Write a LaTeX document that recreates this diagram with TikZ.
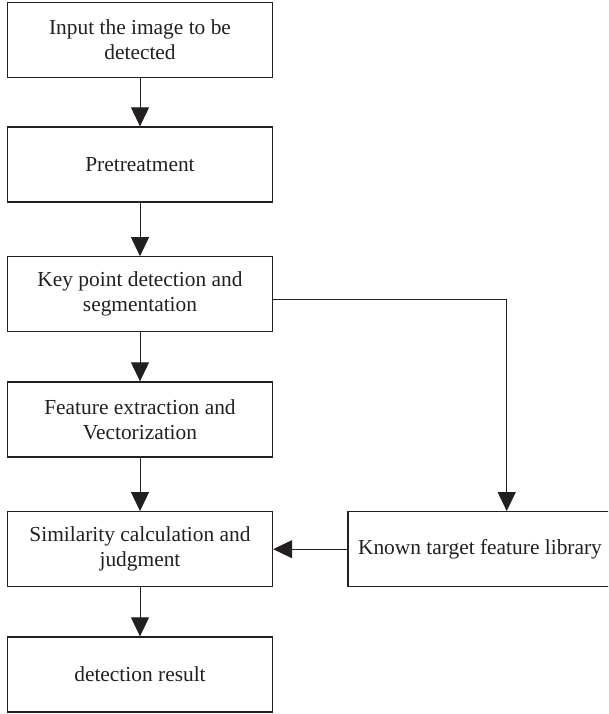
\documentclass[tikz,border=0pt]{standalone}
\usepackage{fontspec}
\setmainfont{Liberation Serif}
\usetikzlibrary{arrows.meta}
\definecolor{ink}{HTML}{231F20}
\tikzset{
  stepbox/.style={draw=ink, line width=1.3pt, rectangle, minimum width=265pt,
    minimum height=75pt, align=center, font=\fontsize{21.4}{25}\selectfont,
    text=ink, inner sep=0pt},
  flow/.style={draw=ink, line width=1pt, -{Triangle[length=19pt,width=18pt]}}
}
\begin{document}
\begin{tikzpicture}[x=1pt,y=-1pt]
\useasboundingbox (0,0) rectangle (608,714);
\clip (0,0) rectangle (608,714);
% main column
\node[stepbox] (b1) at (140,39.7) {Input the image to be\\detected};
\node[stepbox] (b2) at (140,164.5) {Pretreatment};
\node[stepbox] (b3) at (140,294.3) {Key point detection and\\segmentation};
\node[stepbox] (b4) at (140,419.5) {Feature extraction and\\Vectorization};
\node[stepbox] (b5) at (140,549.2) {Similarity calculation and\\judgment};
\node[stepbox] (b6) at (140,674.5) {detection result};
% side library box
\node[stepbox, minimum width=264pt] (kn) at (480,549.2) {Known target feature library};
% connectors
\draw[flow] (b1) -- (b2);
\draw[flow] (b2) -- (b3);
\draw[flow] (b3) -- (b4);
\draw[flow] (b4) -- (b5);
\draw[flow] (b5) -- (b6);
\coordinate (turn) at (506.7,299.3);
\draw[flow] ([yshift=-5pt]b3.east) -- (turn) -- (turn |- kn.north);
\draw[flow] (kn) -- (b5);
\end{tikzpicture}
\end{document}
